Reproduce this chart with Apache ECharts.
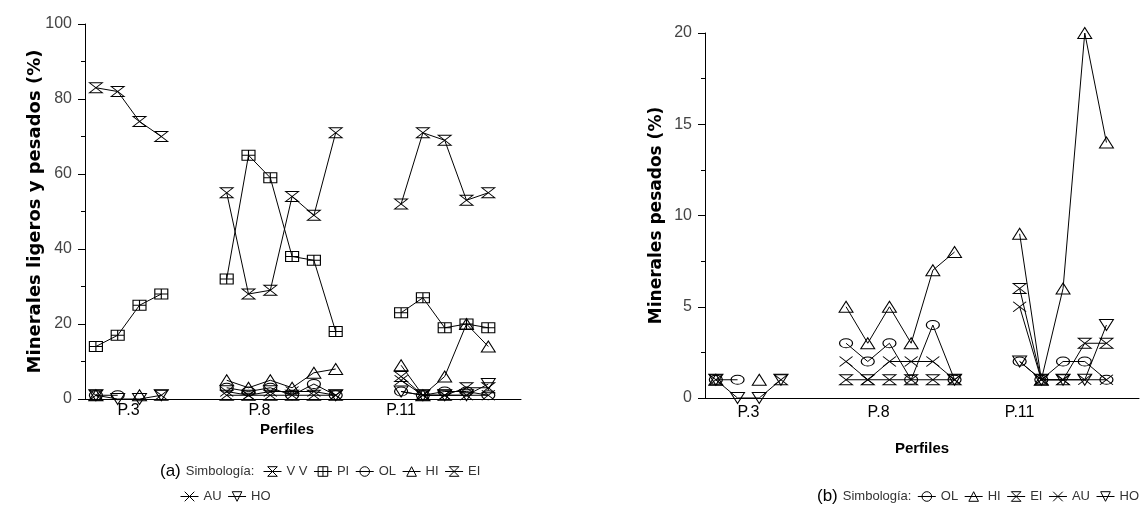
<!DOCTYPE html>
<html><head><meta charset="utf-8">
<script src="https://cdn.jsdelivr.net/npm/echarts@6/dist/echarts.min.js"></script>
<style>html,body{margin:0;padding:0;background:#fff}#c{width:1146px;height:523px}</style>
</head><body><div id="c"></div>
<script>
// sample slots along the profile axis ('' = gap between profiles)
const samples = ['P3-1','P3-2','P3-3','P3-4','','',
  'P8-1','P8-2','P8-3','P8-4','P8-5','P8-6','','',
  'P11-1','P11-2','P11-3','P11-4','P11-5',''];
const xTickPos = [1.5, 7.5, 14];
const xTickLabels = ['P.3', 'P.8', 'P.11'];
const yTicksA = [0, 20, 40, 60, 80, 100];
const yTicksB = [0, 5, 10, 15, 20];

// light minerals (%)
const VV = [83,82,74,70,null,null, 55,28,29,54,49,71,null,null, 52,71,69,53,55,null];
const PI = [14,17,25,28,null,null, 32,65,59,38,37,18,null,null, 23,27,19,20,19,null];
// heavy minerals (%)
const OL = [1,1,null,null,null,null, 3,2,3,1,4,1,null,null, 2,1,2,2,1,null];
const HI = [1,null,1,null,null,null, 5,3,5,3,7,8,null,null, 9,1,6,20,14,null];
const EI = [1,null,null,1,null,null, 1,1,1,1,1,1,null,null, 6,1,1,3,3,null];
const AU = [null,null,null,null,null,null, 2,1,2,2,2,1,null,null, 5,1,1,1,1,null];
const HO = [1,0,0,1,null,null, null,null,null,null,null,1,null,null, 2,1,1,1,4,null];

const FONT = 'Liberation Sans, Arial, sans-serif';
const TFONT = 'DejaVu Sans, sans-serif';
const SYM = {
  VV: 'path://M0,0L10,0L0,8L10,8Z',
  PI: 'path://M0,0H10V8H0ZM5,0V8M0,4H10',
  OL: 'path://M0,4A5,4 0 1,1 10,4A5,4 0 1,1 0,4Z',
  HI: 'path://M5,0L10,8L0,8Z',
  EI: 'path://M0,0L10,0L0,8L10,8Z',
  AU: 'path://M0,0L10,8M10,0L0,8',
  HO: 'path://M0,0L10,0L5,8Z'
};
const SIZE = {VV:[13,10], PI:[13,10], OL:[13,9], HI:[14,11], EI:[13,10], AU:[13,10], HO:[14,11]};
const LABELS = {VV:'V V'};
const HOLLOW = {color: 'rgba(0,0,0,0)', borderColor: '#000', borderWidth: 1};

function mk(name, vals, idx) {
  return {
    type: 'line', name: name, xAxisIndex: idx, yAxisIndex: idx,
    data: vals.map((v, i) => [i, v]),
    symbol: SYM[name], symbolSize: SIZE[name], showSymbol: true,
    connectNulls: false, clip: false, animation: false,
    lineStyle: {color: '#000', width: 1},
    itemStyle: HOLLOW,
    emphasis: {disabled: true}, silent: true
  };
}

function xAxis(idx, margin, nameGap, pad) {
  return {
    type: 'value', gridIndex: idx, min: -0.5, max: 19.5, interval: 0.5,
    name: 'Perfiles', nameLocation: 'middle', nameGap: nameGap, nameMoveOverlap: false,
    nameTextStyle: {fontFamily: FONT, fontSize: 15, fontWeight: 'bold', color: '#000', padding: pad},
    axisLine: {onZero: false, lineStyle: {color: '#000', width: 1}},
    axisTick: {show: false}, splitLine: {show: false},
    axisLabel: {
      margin: margin, fontFamily: FONT, fontSize: 16, color: '#000',
      showMinLabel: true, showMaxLabel: true, interval: 0,
      formatter: function (v) {
        for (let k = 0; k < xTickPos.length; k++) if (Math.abs(v - xTickPos[k]) < 1e-6) return xTickLabels[k];
        return '';
      }
    }
  };
}
function yAxis(idx, ticks, name, nameGap, nameSize) {
  return {
    type: 'value', gridIndex: idx, min: ticks[0], max: ticks[ticks.length - 1],
    interval: ticks[1] - ticks[0],
    name: name, nameLocation: 'middle', nameGap: nameGap, nameMoveOverlap: false,
    nameTextStyle: {fontFamily: TFONT, fontSize: nameSize, fontWeight: 'bold', color: '#000'},
    axisLine: {show: true, onZero: false, lineStyle: {color: '#000', width: 1}},
    axisTick: {show: true, length: 7, lineStyle: {color: '#000'}},
    minorTick: {show: true, splitNumber: 2, length: 4, lineStyle: {color: '#000'}},
    splitLine: {show: false},
    axisLabel: {margin: 13, fontFamily: FONT, fontSize: 16, color: '#444'}
  };
}

const legendText = {fontFamily: FONT, fontSize: 13, color: '#333'};
const legendBase = {itemHeight: 12, itemWidth: 18, itemGap: 6, selectedMode: false, textStyle: legendText,
  itemStyle: HOLLOW, lineStyle: {color: '#000', width: 1}, formatter: n => LABELS[n] || n};
const titleRich = {rich: {a: {fontFamily: FONT, fontSize: 17, color: '#000', fontWeight: 'normal'},
                          s: {fontFamily: FONT, fontSize: 13, color: '#333', fontWeight: 'normal'}}};
const option = {
  backgroundColor: '#fff',
  animation: false,
  title: [
    {text: '{a|(a)} {s|Simbología:}', left: 155, top: 457, textStyle: titleRich},
    {text: '{a|(b)} {s|Simbología:}', left: 812, top: 482, textStyle: titleRich}
  ],
  legend: [
    Object.assign({data: ['VV','PI','OL','HI','EI'], left: 258, top: 460}, legendBase),
    Object.assign({data: ['AU','HO'], left: 175, top: 485}, legendBase),
    Object.assign({data: ['OL','HI','EI','AU','HO'], right: 2, top: 485}, legendBase)
  ],
  grid: [
    {left: 85, top: 24, width: 436, height: 375, containLabel: false, outerBoundsMode: 'none'},
    {left: 705, top: 33, width: 434, height: 365, containLabel: false, outerBoundsMode: 'none'}
  ],
  xAxis: [xAxis(0, 4, 23, [0, 32, 0, 0]), xAxis(1, 7, 43, [0, 0, 0, 0])],
  yAxis: [yAxis(0, yTicksA, 'Minerales ligeros y pesados (%)', 41, 18),
          yAxis(1, yTicksB, 'Minerales pesados (%)', 40, 17)],
  series: [
    mk('VV', VV, 0), mk('PI', PI, 0), mk('OL', OL, 0), mk('HI', HI, 0),
    mk('EI', EI, 0), mk('AU', AU, 0), mk('HO', HO, 0),
    mk('OL', OL, 1), mk('HI', HI, 1), mk('EI', EI, 1), mk('AU', AU, 1), mk('HO', HO, 1)
  ]
};
const chart = echarts.init(document.getElementById('c'), null, {renderer: 'canvas'});
chart.setOption(option);
</script></body></html>
